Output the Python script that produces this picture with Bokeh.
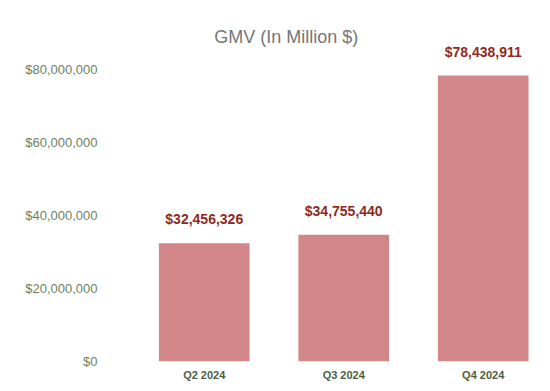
from bokeh.plotting import figure
from bokeh.models import ColumnDataSource, Range1d, FixedTicker, NumeralTickFormatter, LabelSet, SingleIntervalTicker
from bokeh.core.properties import value
from bokeh.embed import file_html
from bokeh.resources import INLINE

quarters = ["Q2 2024", "Q3 2024", "Q4 2024"]
gmv = [32456326, 34755440, 78438911]
gmv_labels = ["$32,456,326", "$34,755,440", "$78,438,911"]
title_text = "GMV (In Million $)"

FONT = "Liberation Sans"
positions = list(range(len(quarters)))

src = ColumnDataSource(data=dict(x=positions, gmv=gmv, label=gmv_labels, q=quarters))

p = figure(width=542, height=383, output_backend="svg", toolbar_location=None,
           x_range=Range1d(-0.5, 2.382), y_range=Range1d(0, 96270000),
           frame_width=402, frame_height=351,
           min_border_left=134, min_border_right=6, min_border_top=10, min_border_bottom=22)
p.outline_line_color = None
p.xgrid.grid_line_color = None
p.ygrid.grid_line_color = None
p.background_fill_color = "white"
p.border_fill_color = "white"

p.vbar(x="x", top="gmv", width=0.65, source=src, fill_color="#d38687", line_color=None)

labels = LabelSet(x="x", y="gmv", text="label", source=src, y_offset=19,
                  text_align="center", text_baseline="alphabetic",
                  text_font=value(FONT), text_font_size="14px", text_font_style="bold",
                  text_color="#8e2b1f")
p.add_layout(labels)

# title placed over the chart
p.text(x=[0.588], y=[89100000], text=[title_text], text_align="center", text_baseline="alphabetic",
       text_font=value(FONT), text_font_size="18px", text_color="#767676")

# axes
p.yaxis.ticker = SingleIntervalTicker(interval=20000000)
p.yaxis.formatter = NumeralTickFormatter(format="$0,0")
p.yaxis.axis_line_color = None
p.yaxis.major_tick_line_color = None
p.yaxis.minor_tick_line_color = None
p.yaxis.major_label_standoff = 31
p.yaxis.major_label_text_font = FONT
p.yaxis.major_label_text_font_size = "13px"
p.yaxis.major_label_text_color = "#6d7f5f"

p.xaxis.ticker = FixedTicker(ticks=positions)
p.xaxis.major_label_overrides = {i: q for i, q in zip(positions, quarters)}
p.xaxis.axis_line_color = None
p.xaxis.major_tick_line_color = None
p.xaxis.minor_tick_line_color = None
p.xaxis.major_label_standoff = 1
p.xaxis.major_label_text_font = FONT
p.xaxis.major_label_text_font_size = "11px"
p.xaxis.major_label_text_font_style = "bold"
p.xaxis.major_label_text_color = "#4e5d3f"

open("out.html", "w").write(file_html(p, INLINE))
